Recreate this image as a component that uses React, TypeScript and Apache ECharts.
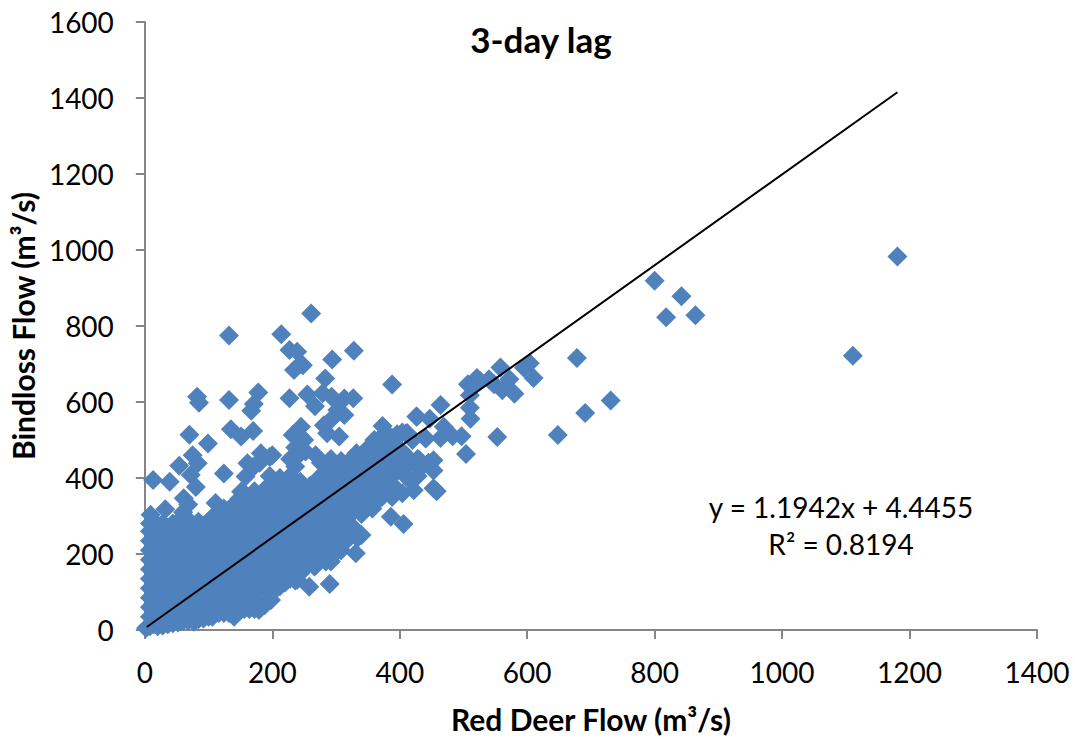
import React, { useEffect, useRef } from "react";
import * as echarts from "echarts";

const xTicks = [0, 200, 400, 600, 800, 1000, 1200, 1400];
const titleText = "3-day lag";
const xName = "Red Deer Flow (m³/s)";
const yName = "Bindloss Flow (m³/s)";
const equation = "y = 1.1942x + 4.4455";
const rSquared = "R² = 0.8194";
const trendLine = [[3, 8], [1181, 1415]];

const farOutliers = [
  [1181, 983], [1111, 722], [800, 919], [842, 878], [818, 823], [864, 828],
  [678, 716], [731, 604], [691, 571], [648, 513], [553, 508],
];
const upperRight = [
  [604, 702], [610, 663], [595, 690], [580, 622], [561, 631], [558, 691], [548, 647], [540, 660],
  [521, 663], [507, 647], [510, 618], [510, 585], [511, 556], [464, 592], [426, 562], [447, 556],
  [469, 535], [497, 510], [483, 510], [464, 505], [440, 505], [410, 518], [504, 463], [453, 447],
  [431, 447], [412, 455], [453, 420], [453, 373], [458, 365], [526, 655], [515, 640], [572, 660],
];
const upperScatter = [
  [261, 833], [132, 775], [214, 778], [227, 737], [239, 732], [294, 712], [328, 735], [248, 697],
  [234, 684], [245, 700], [283, 662], [388, 646], [178, 625], [82, 614], [85, 598], [132, 605],
  [171, 595], [167, 577], [227, 610], [255, 620], [267, 589], [279, 623], [293, 614], [313, 609],
  [327, 610], [302, 579], [292, 553], [313, 566], [281, 539], [305, 509], [286, 518], [245, 535],
  [232, 513], [250, 500], [135, 528], [151, 509], [170, 524], [70, 514], [99, 491], [75, 460],
  [54, 432], [83, 439], [13, 395], [39, 390], [72, 408], [80, 376], [61, 347], [124, 412],
  [161, 439], [182, 465], [200, 460], [158, 404], [171, 430], [151, 364], [111, 334], [32, 318],
  [9, 303], [427, 561], [373, 537], [441, 504], [378, 520], [360, 500], [395, 510],
];
const lowerRight = [
  [422, 368], [404, 360], [381, 377], [386, 298], [406, 279], [357, 320], [331, 202], [336, 246],
  [313, 237], [290, 121], [258, 114], [292, 180], [266, 167], [239, 132], [198, 79], [179, 53],
  [140, 35], [106, 35], [77, 22], [435, 430], [445, 440], [2, 5],
];
// First number of each row is the flow on the x axis; the rest are y readings.
const denseColumns = [
  [8, 10, 35, 60, 85, 110, 135, 160, 185, 210, 235, 260, 280],
  [14, 15, 50, 95, 145, 195, 245, 285],
  [20, 10, 40, 75, 120, 170, 220, 270],
  [28, 12, 35, 65, 100, 150, 200, 250, 280],
  [36, 15, 45, 90, 140, 190, 240, 270],
  [44, 18, 60, 110, 160, 210, 260, 280],
  [52, 20, 40, 85, 135, 185, 235, 285],
  [60, 24, 65, 115, 165, 215, 265, 310],
  [68, 25, 45, 90, 140, 190, 240, 290, 330],
  [76, 26, 70, 120, 170, 220, 270],
  [84, 28, 50, 95, 145, 195, 245, 285],
  [92, 30, 75, 125, 175, 225, 275],
  [100, 35, 55, 100, 150, 200, 250, 285],
  [108, 40, 80, 130, 180, 230, 280, 300],
  [116, 45, 60, 105, 155, 205, 255, 305],
  [124, 45, 85, 135, 185, 235, 285, 320],
  [132, 45, 65, 110, 160, 210, 260, 310],
  [140, 50, 85, 135, 185, 235, 285, 330],
  [148, 55, 105, 155, 205, 255, 305, 345],
  [156, 55, 85, 130, 180, 230, 280, 330, 360],
  [164, 55, 105, 155, 205, 255, 305, 345],
  [172, 55, 80, 130, 180, 230, 280, 330, 365],
  [180, 55, 105, 155, 205, 255, 305, 355, 440],
  [188, 65, 130, 180, 230, 280, 330, 370],
  [196, 80, 105, 155, 205, 255, 305, 355, 405, 455],
  [204, 105, 130, 180, 230, 280, 330, 375],
  [212, 115, 155, 205, 255, 305, 355, 400],
  [220, 125, 180, 230, 280, 330, 380],
  [228, 135, 155, 205, 255, 305, 355, 405, 450],
  [236, 130, 180, 230, 280, 330, 380, 430, 480],
  [244, 150, 205, 255, 305, 355, 390, 465, 510],
  [252, 165, 180, 230, 280, 330, 375, 470],
  [260, 180, 205, 255, 305, 355, 380],
  [268, 170, 230, 280, 330, 380, 460],
  [276, 185, 205, 255, 305, 355, 405, 440],
  [284, 180, 230, 280, 330, 380, 430],
  [292, 205, 255, 305, 355, 405, 450],
  [300, 205, 230, 280, 330, 380, 430],
  [308, 210, 255, 305, 355, 405, 445],
  [316, 235, 280, 330, 380, 430],
  [324, 275, 305, 355, 405, 450],
  [332, 245, 330, 380, 430, 465],
  [340, 250, 305, 355, 405, 455],
  [348, 320, 380, 430, 475],
  [356, 355, 405, 455, 480],
  [364, 340, 380, 430, 490],
  [372, 350, 405, 455, 500],
  [380, 375, 430, 480, 505],
  [388, 350, 405, 455, 505],
  [396, 370, 430, 480, 515],
  [404, 420, 470, 520],
  [412, 400, 455, 518],
  [420, 440, 500],
  [428, 405, 450],
];

const densePoints = denseColumns.flatMap(([x, ...ys]) => ys.map((y) => [x, y]));
const points = [...densePoints, ...lowerRight, ...upperScatter, ...upperRight, ...farOutliers];

const FONT = "Lato";
const GREY = "#868686";

export default function App() {
  const ref = useRef<HTMLDivElement>(null);
  useEffect(() => {
    document.body.style.margin = "0";
    const chart = echarts.init(ref.current!, null, { renderer: "svg" });
    const axisBase = {
      type: "value" as const,
      min: 0,
      interval: 200,
      nameLocation: "middle" as const,
      nameTextStyle: { fontFamily: FONT, fontSize: 30, fontWeight: "bold" as const, color: "#000" },
      axisLine: { show: true, onZero: false, lineStyle: { color: GREY, width: 2 } },
      axisTick: { show: true, length: 9, lineStyle: { color: GREY, width: 2 } },
      axisLabel: { fontFamily: FONT, fontSize: 28, color: "#000", formatter: (v: number) => String(v) },
      splitLine: { show: false },
    };
    chart.setOption({
      animation: false,
      backgroundColor: "#fff",
      grid: { left: 144, right: 38, top: 22, height: 608, containLabel: false },
      title: {
        text: titleText,
        left: 536,
        top: 16,
        textAlign: "center",
        textStyle: { fontFamily: FONT, fontSize: 35, fontWeight: "bold", color: "#000" },
      },
      xAxis: {
        ...axisBase,
        max: xTicks[xTicks.length - 1],
        name: xName,
        nameGap: 74,
        axisLabel: { ...axisBase.axisLabel, margin: 28 },
      },
      yAxis: {
        ...axisBase,
        max: 1600,
        name: yName,
        nameGap: 106,
        axisLabel: { ...axisBase.axisLabel, margin: 31 },
      },
      graphic: [
        {
          type: "text",
          x: 841,
          y: 507,
          style: { text: equation, fontFamily: FONT, fontSize: 28, fill: "#000", align: "center", verticalAlign: "middle" },
        },
        {
          type: "text",
          x: 841,
          y: 544,
          style: { text: rSquared, fontFamily: FONT, fontSize: 28, fill: "#000", align: "center", verticalAlign: "middle" },
        },
      ],
      series: [
        {
          type: "scatter",
          data: points,
          symbol: "diamond",
          symbolSize: 20,
          itemStyle: { color: "#4F81BD", opacity: 1 },
          clip: false,
          large: false,
        },
        {
          type: "line",
          data: trendLine,
          showSymbol: false,
          symbol: "none",
          lineStyle: { color: "#000", width: 2 },
          z: 5,
        },
      ],
    });
    return () => chart.dispose();
  }, []);
  return <div ref={ref} style={{ width: 1075, height: 739 }} />;
}
